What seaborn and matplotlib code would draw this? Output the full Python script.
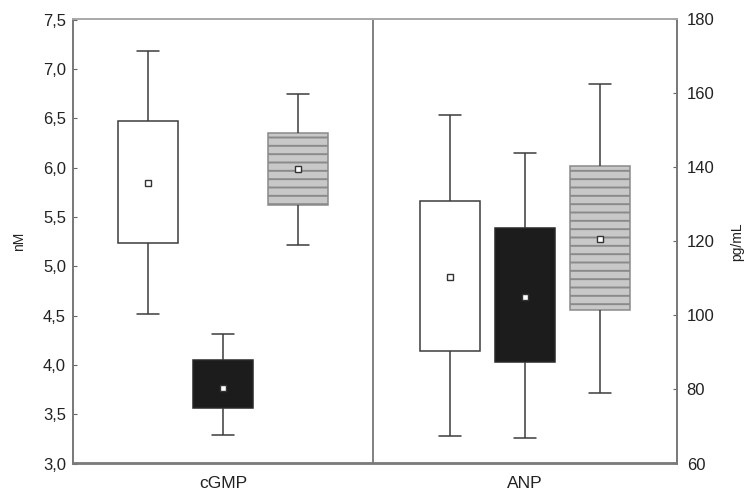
import numpy as np
import pandas as pd
import matplotlib
matplotlib.use("Agg")
import matplotlib.pyplot as plt
import seaborn as sns

# values (whisker low, box low, mean, box high, whisker high)
groups = ["cGMP", "ANP"]
series = ["s1", "s2", "s3"]
box_colors = ["#ffffff", "#1c1c1c", "#c8c8c8"]

cgmp_low = [4.52, 3.29, 5.21]
cgmp_q1 = [5.23, 3.56, 5.62]
cgmp_mean = [5.84, 3.77, 5.98]
cgmp_q3 = [6.47, 4.05, 6.35]
cgmp_high = [7.18, 4.31, 6.75]

anp_low = [67.3, 66.8, 79.1]
anp_q1 = [90.5, 87.5, 101.4]
anp_mean = [110.5, 105.0, 120.8]
anp_q3 = [130.9, 123.7, 140.4]
anp_high = [154.1, 144.0, 162.7]

nm_ticks = [3.0, 3.5, 4.0, 4.5, 5.0, 5.5, 6.0, 6.5, 7.0, 7.5]
pg_ticks = [60, 80, 100, 120, 140, 160, 180]


def five_numbers(group, low, q1, mid, q3, high):
    rows = []
    for i, s in enumerate(series):
        for v in (low[i], q1[i], mid[i], q3[i], high[i]):
            rows.append({"group": group, "series": s, "value": v})
    return pd.DataFrame(rows)


def means(group, mid):
    return pd.DataFrame({"group": group, "series": series, "value": mid})


cgmp_df = five_numbers("cGMP", cgmp_low, cgmp_q1, cgmp_mean, cgmp_q3, cgmp_high)
anp_df = five_numbers("ANP", anp_low, anp_q1, anp_mean, anp_q3, anp_high)

sns.set_style("white")
plt.rcParams["font.family"] = ["Liberation Sans", "DejaVu Sans"]
plt.rcParams["hatch.linewidth"] = 1.4

fig = plt.figure(figsize=(7.46, 4.92), dpi=100)
ax = fig.add_axes([73 / 746, 1 - 463.5 / 492, 604 / 746, 444 / 492])
ax2 = ax.twinx()

pal = dict(zip(series, box_colors))
box_kws = dict(x="group", y="value", hue="series", order=groups, hue_order=series,
               palette=pal, saturation=1, width=0.745, gap=0.2, whis=(0, 100),
               linecolor="#3c3c3c", linewidth=1.1, legend=False,
               medianprops={"linewidth": 0}, capwidths=0.075)
pt_kws = dict(x="group", y="value", hue="series", order=groups, hue_order=series,
              palette=pal, dodge=0.497, markers="s", linestyles="none",
              errorbar=None, legend=False, markersize=5, markeredgewidth=1.0,
              markerfacecolor="white", markeredgecolor="#333333")

sns.boxplot(data=cgmp_df, ax=ax, **box_kws)
sns.pointplot(data=means("cGMP", cgmp_mean), ax=ax, **pt_kws)
sns.boxplot(data=anp_df, ax=ax2, **box_kws)
sns.pointplot(data=means("ANP", anp_mean), ax=ax2, **pt_kws)

# striped grey boxes
for a in (ax, ax2):
    for p in a.patches:
        fc = matplotlib.colors.to_hex(p.get_facecolor())
        if fc == box_colors[2]:
            p.set_hatch("--")
            p.set_edgecolor("#8a8a8a")
        elif fc == box_colors[1]:
            p.set_edgecolor("#2a2a2a")

ax.axvline(0.497, color="#777777", lw=1.3, zorder=0)

ax.set_xlim(-0.497, 1.503)
ax.set_ylim(3.0, 7.5)
ax2.set_ylim(60, 180)
ax.set_yticks(nm_ticks)
ax.set_yticklabels([f"{v:.1f}".replace(".", ",") for v in nm_ticks])
ax2.set_yticks(pg_ticks)
ax2.set_yticklabels([str(v) for v in pg_ticks])

ax.set_xlabel("")
ax.set_ylabel("nM", fontsize=10, color="#222222", labelpad=12)
ax2.set_ylabel("pg/mL", fontsize=10, color="#222222", labelpad=11)

ax.tick_params(axis="y", direction="in", length=3, width=0.8, color="#666666",
               labelsize=12, labelcolor="#222222", pad=5)
ax2.tick_params(axis="y", direction="in", length=3, width=0.8, color="#666666",
                labelsize=12, labelcolor="#222222", pad=7)
ax.tick_params(axis="x", length=0, labelsize=12.5, labelcolor="#222222", pad=9)

for a in (ax, ax2):
    for side, sp in a.spines.items():
        sp.set_linewidth(1.3)
        sp.set_color("#7a7a7a")
    a.spines["top"].set_color("#aaaaaa")

fig.savefig("out.png", dpi=100)
